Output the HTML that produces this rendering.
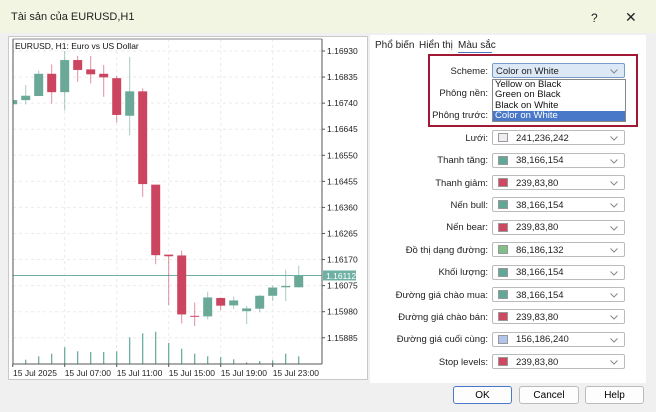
<!DOCTYPE html>
<html><head><meta charset="utf-8"><style>
body{margin:0;width:656px;height:412px;overflow:hidden;background:#f0f0f0;font-family:"Liberation Sans","DejaVu Sans",sans-serif;position:relative}
.abs{position:absolute}
#title{left:0;top:0;width:656px;height:33px;background:#f3f5e3}
#title span{position:absolute;top:11px;font-size:11px;color:#222}
#chartbox{left:8px;top:36px;width:360px;height:344px;background:#fff;border:1px solid #c8c8c8;box-sizing:border-box}
#panel{left:370px;top:35px;width:276px;height:348px;background:#fff}
.tab{position:absolute;top:5px;font-size:10px;color:#222}
.lbl{position:absolute;right:158px;font-size:9.5px;color:#222;white-space:nowrap}
.ctl{position:absolute;left:122px;width:133px;height:15px;border:1px solid #bbb;border-radius:2px;box-sizing:border-box;background:#fff;font-size:9.5px;color:#222}
.ctl .sw{position:absolute;left:5px;top:2px;width:10px;height:9px;border:1px solid #999;box-sizing:border-box}
.ctl .tx{position:absolute;left:23px;top:1.5px}
.ctl svg{position:absolute;right:6px;top:5px}
.btn{position:absolute;top:386px;height:18px;border:1px solid #bbb;border-radius:3px;background:#fdfdfd;font-size:10px;text-align:center;line-height:17px;box-sizing:border-box}
</style></head><body>
<div id="title" class="abs">
<span style="left:11px">Tài sản của EURUSD,H1</span>
<span style="left:591px;font-size:12px">?</span>
<span style="left:625px;font-size:14px;top:9px">✕</span>
</div>
<div id="chartbox" class="abs">
<svg id="chart" width="358" height="342" style="position:absolute;left:0;top:0"></svg>
</div>
<div id="panel" class="abs">
<span class="tab" style="left:5px">Phổ biến</span>
<span class="tab" style="left:49px">Hiển thị</span>
<span class="tab" style="left:88px">Màu sắc</span>
<div class="abs" style="left:88px;top:17px;width:34px;height:1px;background:#4a78c8"></div>
<div id="rows"></div>
<div class="abs" style="left:58px;top:19px;width:210px;height:73px;border:2px solid #a01834;box-sizing:border-box"></div>
<div class="abs" style="left:122px;top:44px;width:134px;height:43px;background:#fff;border:1px solid #888;box-sizing:border-box;font-size:9.5px;line-height:10.3px;color:#111">
<div style="padding-left:2px">Yellow on Black</div>
<div style="padding-left:2px">Green on Black</div>
<div style="padding-left:2px">Black on White</div>
<div style="padding-left:2px;background:#4a78c8;color:#fff">Color on White</div>
</div>
</div>
<div class="btn" style="left:453px;width:59px;border-color:#4a78c8">OK</div>
<div class="btn" style="left:519px;width:60px">Cancel</div>
<div class="btn" style="left:585px;width:59px">Help</div>
<script>
const rowLabels=["Scheme:","Phông nền:","Phông trước:","Lưới:","Thanh tăng:","Thanh giảm:","Nến bull:","Nến bear:","Đồ thị dạng đường:","Khối lượng:","Đường giá chào mua:","Đường giá chào bán:","Đường giá cuối cùng:","Stop levels:"];
const rowValues=["Color on White","","","241,236,242","38,166,154","239,83,80","38,166,154","239,83,80","86,186,132","38,166,154","38,166,154","239,83,80","156,186,240","239,83,80"];
const rowColors=[null,null,null,"#f1ecf2","#5fa898","#d04860","#5fa898","#d04860","#80bf88","#5fa898","#5fa898","#d04860","#b0c4ec","#d04860"];
const chev='<svg width="8" height="5"><polyline points="0.5,0.5 4,4 7.5,0.5" fill="none" stroke="#888" stroke-width="1"/></svg>';
const rows=document.getElementById('rows');
rowLabels.forEach((l,i)=>{
  const y=28+i*22.4;
  const lab=document.createElement('span');lab.className='lbl';lab.style.top=(y+2.5)+'px';lab.textContent=l;
  
  
  rows.appendChild(lab);
  if(i==1||i==2)return;
  const c=document.createElement('div');c.className='ctl';c.style.top=y+'px';
  
  
  if(i==0){c.style.background='#dce8f5';c.style.borderColor='#7a9cc8';c.innerHTML='<span class="tx" style="left:3px">'+rowValues[i]+'</span>'+chev;}
  else c.innerHTML='<span class="sw" style="background:'+rowColors[i]+'"></span><span class="tx">'+rowValues[i]+'</span>'+chev;
  rows.appendChild(c);
});

// chart data
const times=["15 Jul 2025","15 Jul 07:00","15 Jul 11:00","15 Jul 15:00","15 Jul 19:00","15 Jul 23:00"];
const timeIdx=[0,4,8,12,16,20];
const opens =[1.16736,1.16751,1.16766,1.16847,1.16780,1.16897,1.16863,1.16847,1.16831,1.16694,1.16783,1.16443,1.16188,1.16185,1.15965,1.15963,1.16030,1.16003,1.15982,1.15991,1.16038,1.16069,1.16069];
const highs =[1.16751,1.16806,1.16859,1.16881,1.16930,1.16912,1.16912,1.16879,1.16839,1.16908,1.16794,1.16443,1.16188,1.16203,1.16013,1.16053,1.16032,1.16035,1.16001,1.16041,1.16075,1.16133,1.16148];
const lows  =[1.16736,1.16735,1.16766,1.16738,1.16713,1.16818,1.16812,1.16763,1.16669,1.16623,1.16398,1.16153,1.16004,1.15937,1.15928,1.15952,1.15986,1.15990,1.15935,1.15978,1.16019,1.16019,1.16068];
const closes=[1.16751,1.16767,1.16847,1.16780,1.16897,1.16861,1.16845,1.16834,1.16697,1.16783,1.16445,1.16186,1.16182,1.15970,1.15962,1.16032,1.16002,1.16021,1.15992,1.16038,1.16068,1.16074,1.16112];
const volumes=[0,430,770,1030,1670,1270,1200,1200,1270,2670,3070,3230,2100,1530,1030,770,700,470,170,300,370,1030,770];
const priceTicks=[1.16930,1.16835,1.16740,1.16645,1.16550,1.16455,1.16360,1.16265,1.16170,1.16075,1.15980,1.15885];
const lastPrice=1.16112;

const svg=document.getElementById('chart');const NS='http://www.w3.org/2000/svg';
const ox=8,oy=36;
const plotL=12-ox,plotR=321-ox,plotT=38-oy,plotB=363-oy;
const yP=p=>50-oy+(1.16930-p)/0.00095*26.07;
const xI=i=>11.7-ox+i*13;
const volY=v=>plotB-v*0.01;
function el(t,a){const e=document.createElementNS(NS,t);for(const k in a)e.setAttribute(k,a[k]);svg.appendChild(e);return e;}
const clip=el('clipPath',{id:'pc'});const cr=document.createElementNS(NS,'rect');cr.setAttribute('x',plotL);cr.setAttribute('y',plotT);cr.setAttribute('width',plotR-plotL);cr.setAttribute('height',plotB-plotT);clip.appendChild(cr);
priceTicks.forEach((p,k)=>{
  const g=el('line',{x1:plotL,x2:plotR,y1:yP(p),y2:yP(p),stroke:'#ebebeb','stroke-dasharray':'3,3'});
  
  
  const t=el('line',{x1:plotR,x2:plotR+3,y1:yP(p),y2:yP(p),stroke:'#555'});
  
  
  const tx=el('text',{x:plotR+5,y:yP(p)+3,'font-size':'8.5',fill:'#222'});tx.textContent=p.toFixed(5);
  
  
});
timeIdx.forEach((ix,k)=>{
  const x=xI(ix);
  const g=el('line',{x1:x,x2:x,y1:plotT,y2:plotB,stroke:'#ebebeb','stroke-dasharray':'3,3'});
  
  
  const tk=el('line',{x1:x,x2:x,y1:plotB,y2:plotB+3,stroke:'#555'});
  
  
  const tx=el('text',{x:k==0?plotL:x,y:plotB+12,'font-size':'8.5',fill:'#222'});tx.textContent=times[k];
  
  
});
const gplot=el('g',{'clip-path':'url(#pc)'});
function pe(t,a){const e=document.createElementNS(NS,t);for(const k in a)e.setAttribute(k,a[k]);gplot.appendChild(e);return e;}
volumes.forEach((v,i)=>{if(!v)return;
  const b=pe('line',{x1:xI(i),x2:xI(i),y1:volY(v),y2:plotB,stroke:'#5fa898','stroke-width':1.2});
  
  
});
const lp=pe('line',{x1:plotL,x2:plotR,y1:yP(lastPrice),y2:yP(lastPrice),stroke:'#6fb0a4'});


opens.forEach((o,i)=>{
  const c=closes[i],bull=c>=o,col=bull?'#6aa998':'#cc4560';
  const w=pe('line',{x1:xI(i),x2:xI(i),y1:yP(highs[i]),y2:yP(lows[i]),stroke:col,'stroke-opacity':0.6});
  
  
  const top=yP(Math.max(o,c)),bot=yP(Math.min(o,c));
  const r=pe('rect',{x:xI(i)-4.5,y:top,width:9,height:Math.max(1,bot-top),fill:col});
  
  
});
el('line',{x1:plotL,x2:plotL,y1:plotT,y2:plotB,stroke:'#555'});
el('line',{x1:plotR,x2:plotR,y1:plotT,y2:plotB,stroke:'#555'});
el('line',{x1:plotL,x2:plotR,y1:plotB,y2:plotB,stroke:'#555'});
el('line',{x1:plotL,x2:plotR,y1:plotT,y2:plotT,stroke:'#888'});
const lb=el('rect',{x:plotR+1,y:yP(lastPrice)-5,width:33,height:10,fill:'#6fb0a4'});


const lt=el('text',{x:plotR+4,y:yP(lastPrice)+3.5,'font-size':'8.5',fill:'#fff'});lt.textContent=lastPrice.toFixed(5);
const ttl=el('text',{x:plotL+2,y:plotT+10,'font-size':'8.5',fill:'#111'});ttl.textContent='EURUSD, H1:  Euro vs US Dollar';


</script>
</body></html>
